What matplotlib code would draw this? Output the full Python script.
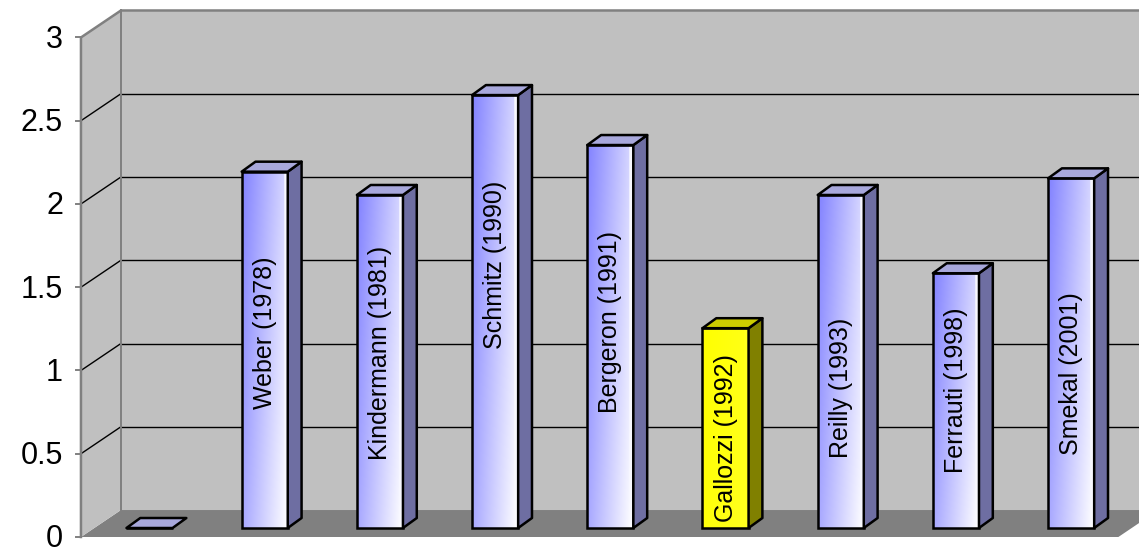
import numpy as np
import matplotlib.pyplot as plt
from matplotlib.patches import Polygon
from matplotlib.colors import to_rgb

studies = ["", "Weber (1978)", "Kindermann (1981)", "Schmitz (1990)", "Bergeron (1991)",
           "Gallozzi (1992)", "Reilly (1993)", "Ferrauti (1998)", "Smekal (2001)"]
values = [0, 2.14, 2.0, 2.6, 2.3, 1.2, 2.0, 1.53, 2.1]
highlight = "Gallozzi (1992)"
yticks = [0, 0.5, 1, 1.5, 2, 2.5, 3]

# where the rotated name sits inside each bar (value units)
label_mid = [0, 1.17, 1.05, 1.58, 1.24, 0.54, 0.84, 0.83, 0.93]

plt.rcParams["font.family"] = ["Liberation Sans", "DejaVu Sans"]

fig = plt.figure(figsize=(11.39, 5.48), dpi=100)
ax = fig.add_axes([0, 0, 1, 1])
ax.axis("off")

# fake 3d: everything is an oblique projection in data units
wall_dx, wall_dy = 0.347, 0.162     # front edge of floor -> back wall
front_x, front_y = -0.595, -0.054   # front-left corner of the floor
back_x, back_y = front_x + wall_dx, front_y + wall_dy
floor_end = 8.41
x_right = 9.0
top = yticks[-1]
bar_w = 0.40
bar_dx, bar_dy = 0.12, 0.06
edge_lw = 1.8


def front_gradient(c_left, c_right, n=80):
    u = np.linspace(0, 1, n)[None, :]
    h = np.linspace(0, 1, n)[:, None]          # 0 at top row, 1 at bottom row
    t = np.clip(0.72 * u + 0.3 * h, 0, 1)
    t = np.where(u > 0.9, np.maximum(t, 0.95), t)
    c0 = np.array(to_rgb(c_left))
    c1 = np.array(to_rgb(c_right))
    return c0 * (1 - t[..., None]) + c1 * t[..., None]


# floor, back wall, side wall
ax.add_patch(Polygon([(front_x, front_y), (floor_end, front_y),
                      (floor_end + wall_dx, back_y), (back_x, back_y)],
                     closed=True, fc="#808080", ec="none", zorder=0))
ax.add_patch(Polygon([(back_x, back_y), (x_right, back_y),
                      (x_right, back_y + top), (back_x, back_y + top)],
                     closed=True, fc="#c0c0c0", ec="none", zorder=0))
ax.add_patch(Polygon([(front_x, front_y), (front_x, front_y + top),
                      (back_x, back_y + top), (back_x, back_y)],
                     closed=True, fc="#c0c0c0", ec="none", zorder=0))

for v in yticks[1:-1]:
    ax.plot([back_x, x_right], [back_y + v] * 2, color="black", lw=1.0, zorder=1)
    ax.plot([front_x, back_x], [front_y + v, back_y + v], color="black", lw=1.0, zorder=1)

ax.plot([front_x, front_x, back_x, x_right],
        [front_y, front_y + top, back_y + top, back_y + top],
        color="#808080", lw=1.8, zorder=1)
ax.plot([back_x, back_x], [back_y, back_y + top], color="#808080", lw=1.4, zorder=1)

# value axis ticks and labels on the front edge
for v in yticks:
    ax.plot([front_x - 0.045, front_x], [front_y + v] * 2, color="#808080", lw=1.4, zorder=1)
    ax.text(front_x - 0.155, front_y + v - 0.063, f"{v:g}", ha="right", va="baseline",
            fontsize=22, color="black")

x = np.arange(len(values))
bars = ax.bar(x, values, width=bar_w, color="none", edgecolor="black",
              linewidth=edge_lw, zorder=4)

for xi, v, name, mid, rect in zip(x, values, studies, label_mid, bars):
    x0, x1 = xi - bar_w / 2, xi + bar_w / 2
    if name == highlight:
        left_c, right_c, side_c, cap_c = "#ffff00", "#ffff20", "#808000", "#cccc00"
    else:
        left_c, right_c, side_c, cap_c = "#8282ff", "#ffffff", "#6e6ea2", "#a8a8dc"

    if v > 0:
        im = ax.imshow(front_gradient(left_c, right_c), extent=[x0, x1, 0, v],
                       aspect="auto", interpolation="bilinear", zorder=3)
        im.set_clip_path(rect)
        ax.add_patch(Polygon([(x1, 0), (x1 + bar_dx, bar_dy), (x1 + bar_dx, v + bar_dy), (x1, v)],
                             closed=True, fc=side_c, ec="black", lw=edge_lw,
                             joinstyle="round", zorder=4))
    ax.add_patch(Polygon([(x0, v), (x1, v), (x1 + bar_dx, v + bar_dy), (x0 + bar_dx, v + bar_dy)],
                         closed=True, fc=cap_c, ec="black", lw=edge_lw,
                         joinstyle="round", zorder=4))
    if name:
        ax.text(xi, mid, name, rotation=90, ha="center", va="center",
                fontsize=18, color="black", zorder=5)

ax.set_xlim(-1.2977, 8.589)
ax.set_ylim(-0.1201, 3.171)

fig.savefig("out.png", dpi=100)
